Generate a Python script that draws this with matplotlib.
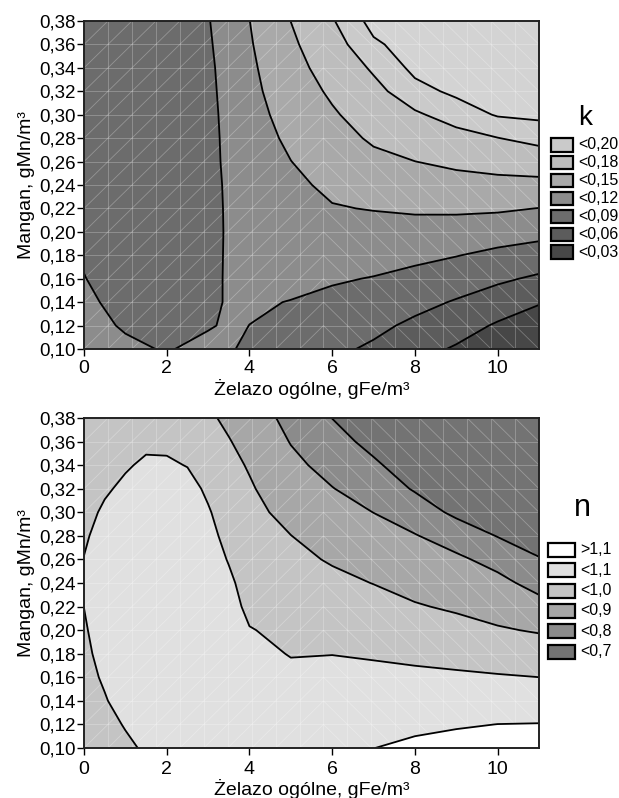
import numpy as np
import matplotlib
matplotlib.use("Agg")
import matplotlib.pyplot as plt
from matplotlib.collections import LineCollection
from matplotlib.patches import Rectangle
from matplotlib.ticker import FuncFormatter

plt.rcParams['font.family'] = ['Liberation Sans', 'DejaVu Sans']

# ---- data: top panel (k) ----
k_x = [0, 1, 2, 3, 3.5, 4, 5, 6, 7, 8, 9, 10, 11]
k_y = [0.10, 0.12, 0.14, 0.16, 0.18, 0.20, 0.22, 0.24, 0.26, 0.28, 0.30, 0.32, 0.34, 0.36, 0.38]
k_values = [
    [0.100, 0.094, 0.0885, 0.096, 0.0915, 0.087, 0.078, 0.066, 0.0556, 0.040, 0.0269, 0.010, -0.012],
    [0.097, 0.0879, 0.085, 0.0883, 0.0925, 0.0899, 0.084, 0.075, 0.0667, 0.0543, 0.0423, 0.0267, 0.010],
    [0.094, 0.0835, 0.081, 0.083, 0.093, 0.092, 0.0895, 0.084, 0.0778, 0.0684, 0.0577, 0.0457, 0.0327],
    [0.0906, 0.0806, 0.078, 0.0818, 0.0935, 0.0945, 0.0945, 0.0925, 0.0889, 0.0823, 0.0742, 0.0647, 0.0555],
    [0.088, 0.079, 0.076, 0.0797, 0.094, 0.097, 0.0996, 0.1008, 0.0996, 0.0962, 0.0909, 0.0834, 0.0771],
    [0.086, 0.077, 0.074, 0.0772, 0.0945, 0.099, 0.1046, 0.1092, 0.1104, 0.110, 0.1079, 0.1034, 0.0986],
    [0.084, 0.076, 0.073, 0.0771, 0.095, 0.101, 0.1097, 0.1185, 0.1211, 0.1236, 0.1244, 0.1236, 0.1195],
    [0.082, 0.075, 0.0725, 0.0773, 0.096, 0.1035, 0.1147, 0.125, 0.1322, 0.1368, 0.1399, 0.1418, 0.1422],
    [0.081, 0.074, 0.072, 0.0795, 0.097, 0.106, 0.1197, 0.1323, 0.1433, 0.1498, 0.1557, 0.1606, 0.1647],
    [0.080, 0.073, 0.0715, 0.0792, 0.0985, 0.108, 0.1248, 0.1395, 0.1538, 0.1633, 0.1719, 0.1795, 0.1876],
    [0.079, 0.072, 0.071, 0.080, 0.100, 0.1105, 0.1298, 0.1468, 0.1633, 0.1767, 0.1895, 0.2017, 0.204],
    [0.078, 0.071, 0.0705, 0.0817, 0.1015, 0.113, 0.1349, 0.1543, 0.1729, 0.1936, 0.204, 0.209, 0.211],
    [0.077, 0.070, 0.070, 0.0833, 0.103, 0.115, 0.140, 0.1622, 0.1833, 0.205, 0.211, 0.215, 0.217],
    [0.076, 0.069, 0.0695, 0.0862, 0.1035, 0.1175, 0.145, 0.1701, 0.1967, 0.209, 0.216, 0.220, 0.222],
    [0.075, 0.068, 0.069, 0.0883, 0.105, 0.1197, 0.1502, 0.178, 0.207, 0.213, 0.220, 0.224, 0.226],
]
k_levels = [-1, 0.03, 0.06, 0.09, 0.12, 0.15, 0.18, 0.20, 1]
k_colors = ['#474747', '#5c5c5c', '#6c6c6c', '#8c8c8c', '#a9a9a9', '#bdbdbd', '#cacaca', '#d3d3d3']
k_labels = ['<0,20', '<0,18', '<0,15', '<0,12', '<0,09', '<0,06', '<0,03']
k_legend_colors = ['#cacaca', '#bdbdbd', '#a9a9a9', '#8c8c8c', '#6c6c6c', '#5c5c5c', '#474747']

# ---- data: bottom panel (n) ----
n_x = [0, 0.5, 1, 1.5, 2, 2.5, 3, 3.5, 4, 5, 6, 7, 8, 9, 10, 11]
n_y = [0.10, 0.12, 0.14, 0.16, 0.18, 0.20, 0.22, 0.24, 0.26, 0.28, 0.30, 0.32, 0.34, 0.36, 0.38]
n_values = [
    [0.935, 0.960, 0.985, 1.010, 1.020, 1.030, 1.040, 1.048, 1.055, 1.075, 1.087, 1.0993, 1.1165, 1.1317, 1.1475, 1.154],
    [0.948, 0.977, 1.005, 1.025, 1.033, 1.040, 1.046, 1.051, 1.054, 1.058, 1.065, 1.0728, 1.0835, 1.0921, 1.1007, 1.1026],
    [0.962, 0.994, 1.0315, 1.042, 1.047, 1.050, 1.052, 1.054, 1.050, 1.040, 1.043, 1.0464, 1.0504, 1.0525, 1.0539, 1.0513],
    [0.975, 1.010, 1.045, 1.053, 1.057, 1.059, 1.058, 1.055, 1.040, 1.020, 1.021, 1.0199, 1.0173, 1.0129, 1.007, 1.0002],
    [0.985, 1.022, 1.053, 1.060, 1.064, 1.066, 1.062, 1.052, 1.025, 0.996, 0.9987, 0.9922, 0.982, 0.9714, 0.9578, 0.9468],
    [0.993, 1.030, 1.058, 1.065, 1.069, 1.070, 1.063, 1.045, 1.004, 0.9794, 0.9724, 0.9609, 0.9443, 0.929, 0.9082, 0.8926],
    [1.0005, 1.036, 1.060, 1.068, 1.072, 1.072, 1.060, 1.032, 0.980, 0.9598, 0.946, 0.9297, 0.9066, 0.8886, 0.8659, 0.8309],
    [1.006, 1.038, 1.060, 1.069, 1.073, 1.072, 1.052, 1.016, 0.965, 0.9402, 0.9197, 0.8983, 0.8723, 0.8525, 0.8248, 0.7688],
    [1.002, 1.036, 1.057, 1.068, 1.072, 1.069, 1.040, 0.995, 0.951, 0.9206, 0.8925, 0.8653, 0.8387, 0.8163, 0.7704, 0.7063],
    [0.990, 1.028, 1.050, 1.063, 1.067, 1.062, 1.025, 0.975, 0.937, 0.901, 0.8627, 0.8322, 0.805, 0.7577, 0.6963, 0.650],
    [0.975, 1.012, 1.038, 1.055, 1.058, 1.050, 1.008, 0.957, 0.923, 0.875, 0.8328, 0.7992, 0.750, 0.680, 0.640, 0.600],
    [0.960, 0.990, 1.015, 1.040, 1.042, 1.030, 0.985, 0.940, 0.909, 0.8487, 0.803, 0.7568, 0.6912, 0.630, 0.600, 0.560],
    [0.945, 0.970, 0.992, 1.012, 1.012, 0.997, 0.960, 0.922, 0.893, 0.8224, 0.769, 0.7147, 0.650, 0.590, 0.560, 0.530],
    [0.930, 0.955, 0.970, 0.985, 0.982, 0.968, 0.935, 0.904, 0.875, 0.796, 0.7345, 0.6727, 0.620, 0.560, 0.530, 0.500],
    [0.915, 0.940, 0.955, 0.965, 0.962, 0.945, 0.912, 0.885, 0.855, 0.770, 0.699, 0.640, 0.590, 0.530, 0.500, 0.480],
]
n_levels = [0, 0.7, 0.8, 0.9, 1.0, 1.1, 2]
n_colors = ['#737373', '#8b8b8b', '#a7a7a7', '#c4c4c4', '#e0e0e0', '#ffffff']
n_labels = ['>1,1', '<1,1', '<1,0', '<0,9', '<0,8', '<0,7']
n_legend_colors = ['#ffffff', '#e0e0e0', '#c4c4c4', '#a7a7a7', '#8b8b8b', '#737373']

x_ticks = [0, 2, 4, 6, 8, 10]
y_ticks = [0.10, 0.12, 0.14, 0.16, 0.18, 0.20, 0.22, 0.24, 0.26, 0.28, 0.30, 0.32, 0.34, 0.36, 0.38]
x_title = 'Żelazo ogólne, gFe/m³'
y_title = 'Mangan, gMn/m³'

W, H = 619, 798
fig = plt.figure(figsize=(W / 100, H / 100), dpi=100)
ax1 = fig.add_axes([84 / W, 1 - 349 / H, 455 / W, 328 / H])
ax2 = fig.add_axes([84 / W, 1 - 748 / H, 455 / W, 330 / H])


def draw_mesh(ax):
    # light triangulated surface mesh drawn over the fill
    xs = np.linspace(0, 11, 20)
    ys = np.linspace(0.10, 0.38, 15)
    segs = []
    for xv in xs:
        segs.append([(xv, ys[0]), (xv, ys[-1])])
    for yv in ys:
        segs.append([(xs[0], yv), (xs[-1], yv)])
    for i in range(len(xs) - 1):
        for j in range(len(ys) - 1):
            if i < 10:
                segs.append([(xs[i], ys[j]), (xs[i + 1], ys[j + 1])])
            else:
                segs.append([(xs[i], ys[j + 1]), (xs[i + 1], ys[j])])
    ax.add_collection(LineCollection(segs, colors='white', linewidths=0.6, alpha=0.28, zorder=2))


def style_axis(ax, xpad):
    ax.set_xlim(0, 11)
    ax.set_ylim(0.10, 0.38)
    ax.set_xticks(x_ticks)
    ax.set_yticks(y_ticks)
    ax.yaxis.set_major_formatter(FuncFormatter(lambda v, p: ('%.2f' % v).replace('.', ',')))
    ax.tick_params(axis='y', direction='out', length=5, width=1, pad=1, labelsize=13.5)
    ax.tick_params(axis='x', direction='out', length=5, width=1, pad=xpad, labelsize=14)
    for s in ax.spines.values():
        s.set_linewidth(1.4)
        s.set_color('#222222')
        s.set_zorder(5)
    ax.set_ylabel(y_title, fontsize=14, labelpad=3)


def draw_legend(title, labels, colors, x0, y_title, y0, step, bw, bh, tsize):
    fig.text((x0 + 34) / W, 1 - y_title / H, title, fontsize=tsize, ha='center', va='center')
    for i, (lab, c) in enumerate(zip(labels, colors)):
        top = y0 + i * step
        fig.patches.append(Rectangle((x0 / W, 1 - (top + bh) / H), bw / W, bh / H,
                                     facecolor=c, edgecolor='black', linewidth=1.6,
                                     transform=fig.transFigure, figure=fig))
        fig.text((x0 + bw + 5) / W, 1 - (top + bh / 2) / H, lab, fontsize=11.5,
                 ha='left', va='center')


# top panel
KX, KY = np.meshgrid(k_x, k_y)
KZ = np.array(k_values)
ax1.contourf(KX, KY, KZ, levels=k_levels, colors=k_colors, zorder=1)
draw_mesh(ax1)
ax1.contour(KX, KY, KZ, levels=k_levels[1:-1], colors='black', linewidths=1.3, zorder=3)
style_axis(ax1, 3)
ax1.set_xlabel(x_title, fontsize=14, labelpad=1)

# bottom panel
NX, NY = np.meshgrid(n_x, n_y)
NZ = np.array(n_values)
ax2.contourf(NX, NY, NZ, levels=n_levels, colors=n_colors, zorder=1)
draw_mesh(ax2)
ax2.contour(NX, NY, NZ, levels=n_levels[1:-1], colors='black', linewidths=1.3, zorder=3)
style_axis(ax2, 4)
ax2.set_xlabel(x_title, fontsize=14, labelpad=1)

draw_legend('k', k_labels, k_legend_colors, 551, 118, 138, 17.9, 22, 13.5, 20)
draw_legend('n', n_labels, n_legend_colors, 548, 508, 543, 20.3, 27, 14, 22)

fig.savefig('out.png', dpi=100)
